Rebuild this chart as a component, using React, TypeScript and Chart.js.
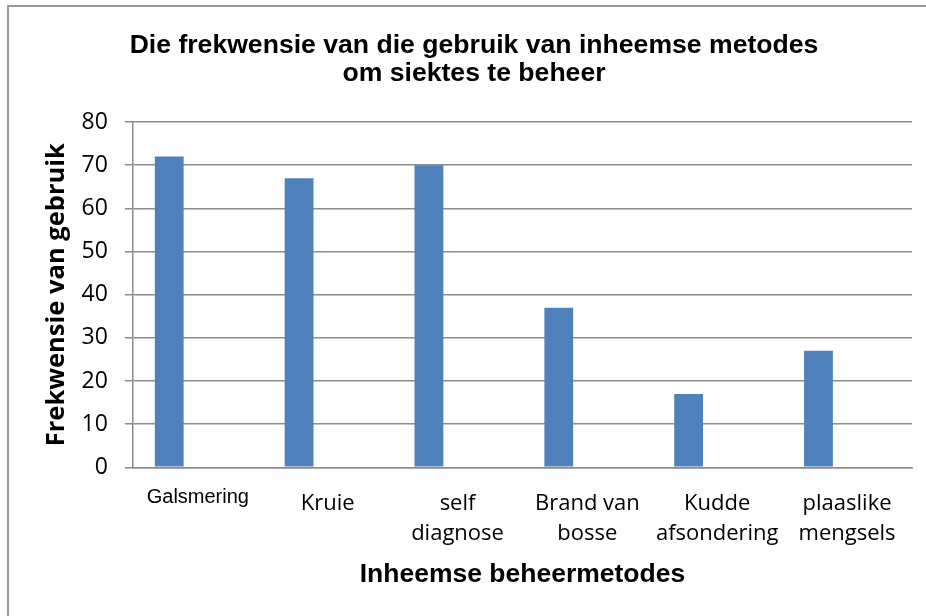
import React, { useEffect, useRef } from "react";
import { Chart, registerables } from "chart.js";

Chart.register(...registerables);

const chartTitle = ["Die frekwensie van die gebruik van inheemse metodes", "om siektes te beheer"];
const categories: (string | string[])[] = [
  "Galsmering",
  "Kruie",
  ["self", "diagnose"],
  ["Brand van", "bosse"],
  ["Kudde", "afsondering"],
  ["plaaslike", "mengsels"],
];
const frequencies = [72, 67, 70, 37, 17, 27];
const emptySeries = [null, null, null, null, null, null];
const yAxisTitle = "Frekwensie van gebruik";
const xAxisTitle = "Inheemse beheermetodes";
const yMin = 0;
const yMax = 80;
const yStep = 10;

export default function App() {
  const canvasRef = useRef<HTMLCanvasElement | null>(null);

  useEffect(() => {
    if (!canvasRef.current) return;
    const chart = new Chart(canvasRef.current, {
      type: "bar",
      data: {
        labels: categories,
        datasets: [
          {
            label: "Frekwensie",
            data: frequencies,
            backgroundColor: "#4F81BD",
            borderWidth: 0,
            categoryPercentage: 0.881,
            barPercentage: 0.504,
          },
          {
            label: "",
            data: emptySeries,
            backgroundColor: "rgba(0,0,0,0)",
            categoryPercentage: 0.881,
            barPercentage: 0.504,
          },
        ],
      },
      options: {
        responsive: false,
        animation: false,
        layout: { padding: { left: 36, right: 14, top: 0, bottom: 0 } },
        plugins: {
          legend: { display: false },
          tooltip: { enabled: false },
          title: {
            display: true,
            text: chartTitle,
            color: "#000",
            font: { family: "'Liberation Sans', Arial, sans-serif", size: 26.6, weight: "bold", lineHeight: 1.07 },
            padding: { top: 31, bottom: 34.1 },
          },
        },
        scales: {
          x: {
            grid: { display: false, drawTicks: false },
            border: { display: true, color: "#8c8c8c", width: 1.5 },
            ticks: {
              color: "#000",
              padding: 21,
              maxRotation: 0,
              autoSkip: false,
              font: (ctx: any) =>
                ctx.index === 0
                  ? { family: "'Liberation Sans', Arial, sans-serif", size: 20, lineHeight: 0.9 }
                  : { family: "'Open Sans', sans-serif", size: 22, lineHeight: 1.36 },
            },
            title: {
              display: true,
              text: xAxisTitle,
              color: "#000",
              font: { family: "'Liberation Sans', Arial, sans-serif", size: 26.5, weight: "bold", lineHeight: 1.2 },
              padding: { top: -10.4, bottom: 25.4 },
            },
          },
          y: {
            min: yMin,
            max: yMax,
            grid: { color: "#8c8c8c", lineWidth: 1.5, drawTicks: true, tickLength: 8 },
            border: { display: true, color: "#8c8c8c", width: 1.5 },
            ticks: {
              stepSize: yStep,
              color: "#000",
              padding: 17,
              font: { family: "'Open Sans', sans-serif", size: 23, lineHeight: 1.2 },
            },
            title: {
              display: true,
              text: yAxisTitle,
              color: "#000",
              font: { family: "'Open Sans', sans-serif", size: 25.5, weight: "bold", lineHeight: 1.2 },
              padding: { top: 5.5, bottom: -7.5 },
            },
          },
        },
      },
    });
    return () => chart.destroy();
  }, []);

  return (
    <div style={{ position: "fixed", left: 0, top: 0, width: 926, height: 616, overflow: "hidden", background: "#fff" }}>
      <div
        style={{
          position: "absolute",
          left: 7,
          top: 5,
          width: 1000,
          height: 700,
          borderTop: "2px solid #9a9a9a",
          borderLeft: "2px solid #9a9a9a",
        }}
      />
      <canvas ref={canvasRef} width={926} height={616} style={{ position: "absolute", left: 0, top: 0, width: 926, height: 616 }} />
    </div>
  );
}
